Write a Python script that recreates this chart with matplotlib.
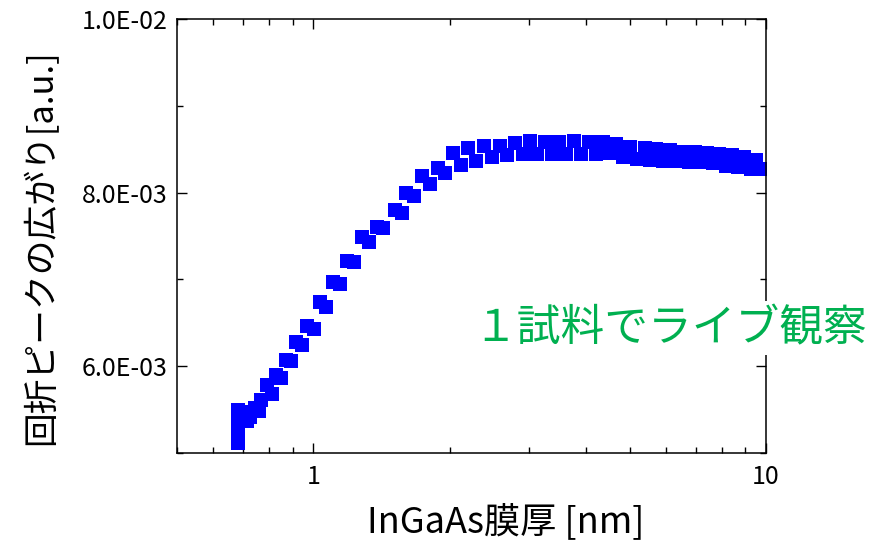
import matplotlib
matplotlib.use("Agg")
import matplotlib.pyplot as plt
from matplotlib.ticker import FixedLocator, FuncFormatter, LogLocator, NullFormatter

plt.rcParams['font.family'] = ['Noto Sans CJK JP', 'DejaVu Sans']

# InGaAs thickness [nm] and diffraction peak broadening [a.u.]
thickness = [0.683, 0.683, 0.683, 0.683, 0.683,
             0.700, 0.712, 0.726, 0.745, 0.757, 0.768,
             0.792, 0.810, 0.829, 0.850, 0.870, 0.894, 0.915, 0.944,
             0.970, 1.003, 1.036, 1.068, 1.107, 1.147, 1.189, 1.232,
             1.283, 1.329, 1.384, 1.427, 1.517, 1.572, 1.604, 1.671,
             1.740, 1.808, 1.883, 1.956, 2.037, 2.117, 2.199, 2.290,
             2.385, 2.484, 2.580, 2.681, 2.792, 2.908, 3.013, 3.122,
             3.252, 3.371, 3.491, 3.618, 3.769, 3.905, 4.067, 4.214,
             4.367, 4.502, 4.666, 4.834, 5.009, 5.190, 5.407, 5.546,
             5.718, 5.925, 6.141, 6.329, 6.558, 6.761, 6.970, 7.186,
             7.409, 7.638, 7.875, 8.159, 8.412, 8.673, 8.942, 9.266,
             9.505, 9.750]
spread = [0.00512, 0.00521, 0.00531, 0.00540, 0.00549,
          0.00547, 0.00537, 0.00541, 0.00552, 0.00548, 0.00561,
          0.00578, 0.00568, 0.00590, 0.00586, 0.00607, 0.00606, 0.00628, 0.00624,
          0.00646, 0.00643, 0.00674, 0.00668, 0.00697, 0.00695, 0.00721, 0.00720,
          0.00749, 0.00743, 0.00760, 0.00759, 0.00780, 0.00777, 0.00800, 0.00796,
          0.00819, 0.00810, 0.00828, 0.00823, 0.00846, 0.00832, 0.00851, 0.00836,
          0.00854, 0.00841, 0.00854, 0.00843, 0.00857, 0.00844, 0.00859, 0.00844,
          0.00858, 0.00844, 0.00858, 0.00845, 0.00859, 0.00845, 0.00858, 0.00844,
          0.00858, 0.00846, 0.00856, 0.00841, 0.00852, 0.00839, 0.00851, 0.00837,
          0.00850, 0.00836, 0.00849, 0.00836, 0.00847, 0.00835, 0.00847, 0.00835,
          0.00846, 0.00834, 0.00845, 0.00831, 0.00843, 0.00829, 0.00841, 0.00827,
          0.00838, 0.00827]

y_major = [0.006, 0.008, 0.010]
y_minor = [0.005, 0.007, 0.009]

fig = plt.figure(figsize=(8.79, 5.47), dpi=100)
ax = fig.add_axes([0.2014, 0.1718, 0.67, 0.7935])

ax.plot(thickness, spread, 's', color='#0000ff', markersize=9.8,
        markeredgewidth=0)

ax.set_xscale('log')
ax.set_xlim(0.5, 10)
ax.set_ylim(0.005, 0.010)

ax.xaxis.set_major_locator(LogLocator(base=10))
ax.xaxis.set_minor_locator(LogLocator(base=10, subs=range(2, 10)))
ax.xaxis.set_minor_formatter(NullFormatter())
ax.xaxis.set_major_formatter(FuncFormatter(lambda v, p: f"{v:g}"))

ax.yaxis.set_major_locator(FixedLocator(y_major))
ax.yaxis.set_minor_locator(FixedLocator(y_minor))
ax.yaxis.set_major_formatter(FuncFormatter(lambda v, p: f"{v:.1E}"))

ax.tick_params(which='both', direction='in', top=True, right=True,
               width=1.0, labelsize=18)
ax.tick_params(which='major', length=7)
ax.tick_params(which='minor', length=4)
ax.tick_params(axis='x', pad=8)
ax.tick_params(axis='y', pad=7)
for s in ax.spines.values():
    s.set_linewidth(1.1)

fig.text(506 / 879, 1 - 522 / 547, 'InGaAs膜厚 [nm]', fontsize=26,
         ha='center', va='center')
fig.text(42 / 879, 1 - 247 / 547, '回折ピークの広がり[a.u.]', fontsize=25,
         rotation=90, ha='center', va='center')

fig.text(670 / 879, 1 - 328 / 547, '１試料でライブ観察', fontsize=31.5,
         color='#00b050', ha='center', va='center',
         bbox=dict(facecolor='white', edgecolor='none', pad=3))

fig.savefig('out.png', dpi=100)
